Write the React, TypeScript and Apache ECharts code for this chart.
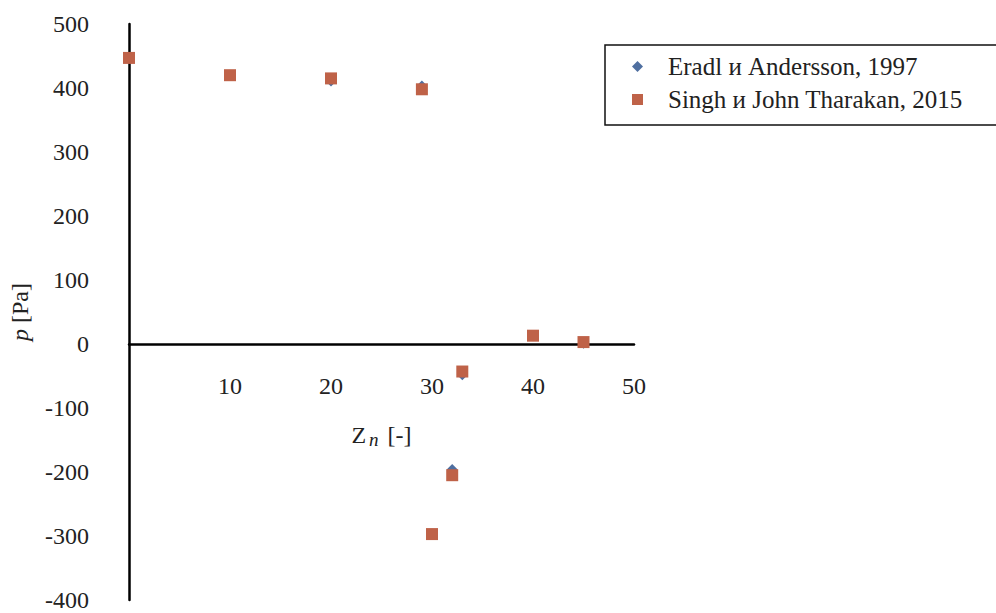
import React, { useEffect, useRef } from "react";
import * as echarts from "echarts";

const seriesNames = ["Eradl и Andersson, 1997", "Singh и John Tharakan, 2015"];
const eradlX = [0, 10, 20, 29, 33, 40, 45, 32, 30];
const eradlY = [447, 420, 411, 403, -48, 13, 1, -196, -297];
const singhX = [0, 10, 20, 29, 33, 40, 45, 32, 30];
const singhY = [447, 420, 415, 398, -43, 13, 3, -205, -297];
const xTicks = [0, 10, 20, 30, 40, 50];
const yTicks = [-400, -300, -200, -100, 0, 100, 200, 300, 400, 500];

const FONT = "'Liberation Serif', 'DejaVu Serif', serif";
const FS = 24;
const TXT = "#222";

export default function App() {
  const ref = useRef<HTMLDivElement>(null);
  useEffect(() => {
    document.body.style.margin = "0";
    const el = ref.current!;
    const chart = echarts.init(el, null, { renderer: "svg" });
    const gridBottom = 13;
    const gridTop = 24;
    const plotH = 613 - gridTop - gridBottom;
    const yMin = yTicks[0];
    const yMax = yTicks[yTicks.length - 1];
    const zeroOffset = (plotH * (0 - yMin)) / (yMax - yMin);
    chart.setOption({
      animation: false,
      backgroundColor: "#ffffff",
      textStyle: { fontFamily: FONT },
      grid: { left: 129, right: 362, top: gridTop, bottom: gridBottom, containLabel: false, outerBoundsMode: "none" },
      legend: {
        left: 627,
        top: 49,
        orient: "vertical",
        itemWidth: 11,
        itemHeight: 11,
        itemGap: 8,
        textStyle: { fontFamily: FONT, fontSize: 25, color: TXT, padding: [0, 0, 0, 20] },
        data: [
          { name: seriesNames[0], icon: "diamond" },
          { name: seriesNames[1], icon: "rect" },
        ],
      },
      graphic: [
        {
          type: "rect",
          shape: { x: 605, y: 45, width: 420, height: 80 },
          style: { fill: "none", stroke: "#111", lineWidth: 1.5 },
          silent: true,
        },
      ],
      xAxis: {
        type: "value",
        min: xTicks[0],
        max: xTicks[xTicks.length - 1],
        interval: 10,
        offset: -zeroOffset,
        splitLine: { show: false },
        axisTick: { show: false },
        axisLine: { show: true, onZero: false, lineStyle: { color: "#000", width: 2.5 } },
        axisLabel: {
          showMinLabel: false,
          margin: 30,
          fontSize: FS,
          color: TXT,
          fontFamily: FONT,
        },
        name: "{z|Z}{n|n} [-]",
        nameLocation: "middle",
        nameGap: 76,
        nameTextStyle: {
          fontFamily: FONT,
          fontSize: FS,
          color: TXT,
          rich: {
            z: { fontFamily: FONT, fontSize: FS, color: TXT },
            n: { fontFamily: FONT, fontSize: 19, fontStyle: "italic", color: TXT, verticalAlign: "bottom", padding: [10, 3, 0, 3] },
          },
        },
      },
      yAxis: {
        type: "value",
        min: yMin,
        max: yMax,
        interval: 100,
        splitLine: { show: false },
        axisTick: { show: false },
        axisLine: { show: true, onZero: false, lineStyle: { color: "#000", width: 2.5 } },
        axisLabel: { margin: 40, fontSize: FS, color: TXT, fontFamily: FONT },
        name: "{p|p} [Pa]",
        nameLocation: "middle",
        nameGap: 97,
        nameTextStyle: {
          fontFamily: FONT,
          fontSize: FS,
          color: TXT,
          rich: { p: { fontFamily: FONT, fontSize: FS, fontStyle: "italic", color: TXT } },
        },
      },
      series: [
        {
          name: seriesNames[0],
          type: "scatter",
          symbol: "diamond",
          symbolSize: 11,
          itemStyle: { color: "#4F6FA0", opacity: 1 },
          data: eradlX.map((x, i) => [x, eradlY[i]]),
          z: 2,
        },
        {
          name: seriesNames[1],
          type: "scatter",
          symbol: "rect",
          symbolSize: 12,
          itemStyle: { color: "#BF6248", opacity: 1 },
          data: singhX.map((x, i) => [x, singhY[i]]),
          z: 3,
        },
      ],
    });
    return () => chart.dispose();
  }, []);
  return <div ref={ref} style={{ width: 996, height: 613 }} />;
}
